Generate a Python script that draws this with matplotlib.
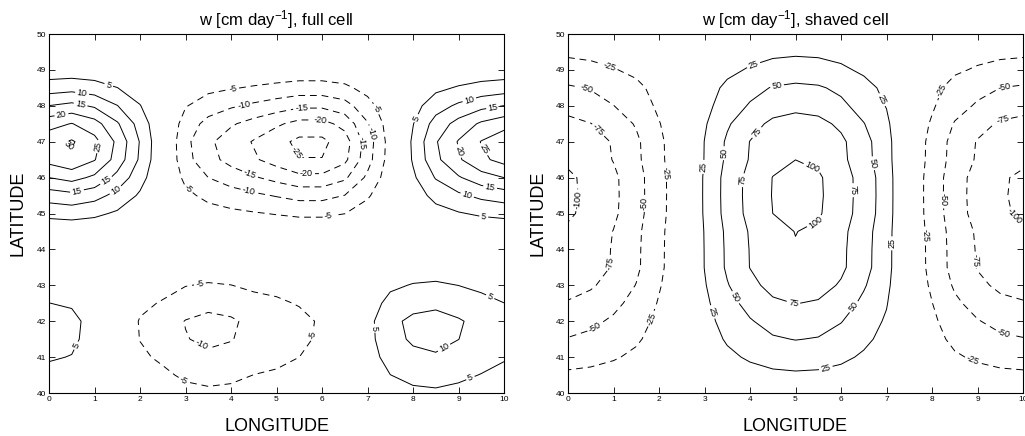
import numpy as np
import matplotlib
matplotlib.use("Agg")
import matplotlib.pyplot as plt

plt.rcParams['font.family'] = ['Liberation Sans', 'DejaVu Sans']
plt.rcParams['mathtext.default'] = 'regular'

# Grid (degrees)
lon_grid = [0.0, 0.5, 1.0, 1.5, 2.0, 2.5, 3.0, 3.5, 4.0, 4.5, 5.0,
            5.5, 6.0, 6.5, 7.0, 7.5, 8.0, 8.5, 9.0, 9.5, 10.0]
lat_grid = [40.0, 40.5, 41.0, 41.5, 42.0, 42.5, 43.0, 43.5, 44.0, 44.5, 45.0,
            45.5, 46.0, 46.5, 47.0, 47.5, 48.0, 48.5, 49.0, 49.5, 50.0]

# Full cell: northern and southern bands of vertical velocity (cm/day)
full_north_lon = [29, 31.5, 27.5, 19.5, 10, 0.5, -9, -14.5, -18, -21, -24,
                  -27, -27, -23, -13, -3, 6, 15, 21, 26, 29]
full_north_lat = [0, 0, 0, 0, 0, 0, 0, 0, 0, 0.05, 0.22,
                  0.43, 0.69, 0.92, 0.97, 0.80, 0.52, 0.26, 0.07, 0, 0]
full_south_lon = [7, 6.3, 3.5, -1, -5.5, -7.5, -10.5, -11.8, -11, -9, -8,
                  -6.5, -4.5, -1.5, 3.5, 9, 11.5, 12.3, 10.8, 8.8, 7]
full_south_lat = [0.35, 0.55, 0.77, 0.93, 0.97, 0.72, 0.46, 0.22, 0.07, 0, 0,
                  0, 0, 0, 0, 0, 0, 0, 0, 0, 0]

# Shaved cell
shaved_lon = [-104, -95, -80, -60, -33, -9, 28, 59, 83, 101, 108,
              103.5, 88, 64, 38, -8, -35, -65, -84, -98, -104]
shaved_lat = [0.08, 0.20, 0.34, 0.47, 0.58, 0.70, 0.82, 0.91, 0.915, 0.93, 0.99,
              1.0, 0.995, 0.925, 0.91, 0.795, 0.63, 0.51, 0.33, 0.20, 0.08]

full_levels = [-25, -20, -15, -10, -5, 5, 10, 15, 20, 25, 30]
shaved_levels = [-100, -75, -50, -25, 25, 50, 75, 100]

full_w = (np.outer(full_north_lat, full_north_lon)
          + np.outer(full_south_lat, full_south_lon))
shaved_w = np.outer(shaved_lat, shaved_lon)

# Where the contour labels sit (lon, lat)
full_neg_label_at = [(4.05, 48.44), (4.31, 47.88), (5.55, 47.9), (5.96, 47.56),
                     (5.3, 46.58), (4.38, 45.98), (5.66, 46.07), (4.38, 45.56),
                     (2.92, 45.47), (7.13, 47.88), (7.13, 47.24), (6.91, 46.96),
                     (6.14, 44.96), (3.32, 43.01), (3.36, 41.34), (5.74, 41.62),
                     (2.88, 40.18)]
full_pos_label_at = [(1.3, 48.53), (0.72, 48.28), (0.68, 47.95), (0.28, 47.7),
                     (0.45, 46.9), (1.12, 46.86), (0.61, 45.65), (1.27, 45.89),
                     (1.52, 45.52), (7.93, 47.74), (9.25, 48.11), (9.77, 47.88),
                     (8.96, 46.72), (9.47, 46.72), (9.69, 45.7), (9.18, 45.47),
                     (9.55, 44.84), (0.5, 41.38), (7.09, 41.8), (8.67, 41.29),
                     (9.73, 42.78), (9.22, 40.55)]
shaved_neg_label_at = [(0.96, 49.28), (0.45, 48.63), (0.67, 47.33), (0.15, 45.38),
                       (1.73, 45.28), (2.17, 46.12), (8.1, 48.49), (9.57, 48.67),
                       (9.53, 47.74), (8.32, 45.38), (9.75, 44.82), (1.0, 43.61),
                       (0.56, 41.89), (1.69, 42.13), (7.81, 44.4), (8.91, 43.7),
                       (9.57, 41.66), (8.87, 40.83)]
shaved_pos_label_at = [(4.04, 49.28), (4.59, 48.58), (4.26, 47.14), (5.36, 46.26),
                       (2.96, 46.3), (3.41, 46.68), (3.82, 45.93), (6.89, 48.16),
                       (6.71, 46.4), (6.31, 45.65), (5.39, 44.87), (3.08, 42.22),
                       (3.65, 42.64), (4.95, 42.48), (6.23, 42.45), (5.65, 40.78),
                       (7.04, 44.17)]

fig = plt.figure(figsize=(10.25, 4.36), dpi=100)
ax_full = fig.add_axes([49 / 1025, 43 / 436, 455 / 1025, 359 / 436])
ax_shaved = fig.add_axes([568 / 1025, 43 / 436, 455 / 1025, 359 / 436])


def draw_panel(ax, field, levels, title, neg_at, pos_at):
    neg = [v for v in levels if v < 0]
    pos = [v for v in levels if v > 0]
    cs_neg = ax.contour(lon_grid, lat_grid, field, levels=neg, colors='k',
                        linewidths=0.7)
    cs_neg.set_linestyle((0, (7, 5)))
    cs_pos = ax.contour(lon_grid, lat_grid, field, levels=pos, colors='k',
                        linewidths=0.7, linestyles='solid')
    for cs, at in ((cs_neg, neg_at), (cs_pos, pos_at)):
        ax.clabel(cs, inline=True, fontsize=6.5, fmt='%d', inline_spacing=2,
                  manual=at)
    ax.set_xlim(0, 10)
    ax.set_ylim(40, 50)
    ax.set_xticks(range(0, 11))
    ax.set_yticks(range(40, 51))
    ax.tick_params(direction='in', top=True, right=True, length=4, width=0.6,
                   labelsize=6, pad=2)
    for sp in ax.spines.values():
        sp.set_linewidth(0.8)
    ax.set_xlabel('LONGITUDE', fontsize=13, labelpad=11)
    ax.set_ylabel('LATITUDE', fontsize=13, labelpad=7)
    ax.set_title(title, fontsize=12, pad=6)


draw_panel(ax_full, full_w, full_levels, r'w [cm day$^{-1}$], full cell',
           full_neg_label_at, full_pos_label_at)
draw_panel(ax_shaved, shaved_w, shaved_levels, r'w [cm day$^{-1}$], shaved cell',
           shaved_neg_label_at, shaved_pos_label_at)

fig.savefig('out.png', dpi=100)
